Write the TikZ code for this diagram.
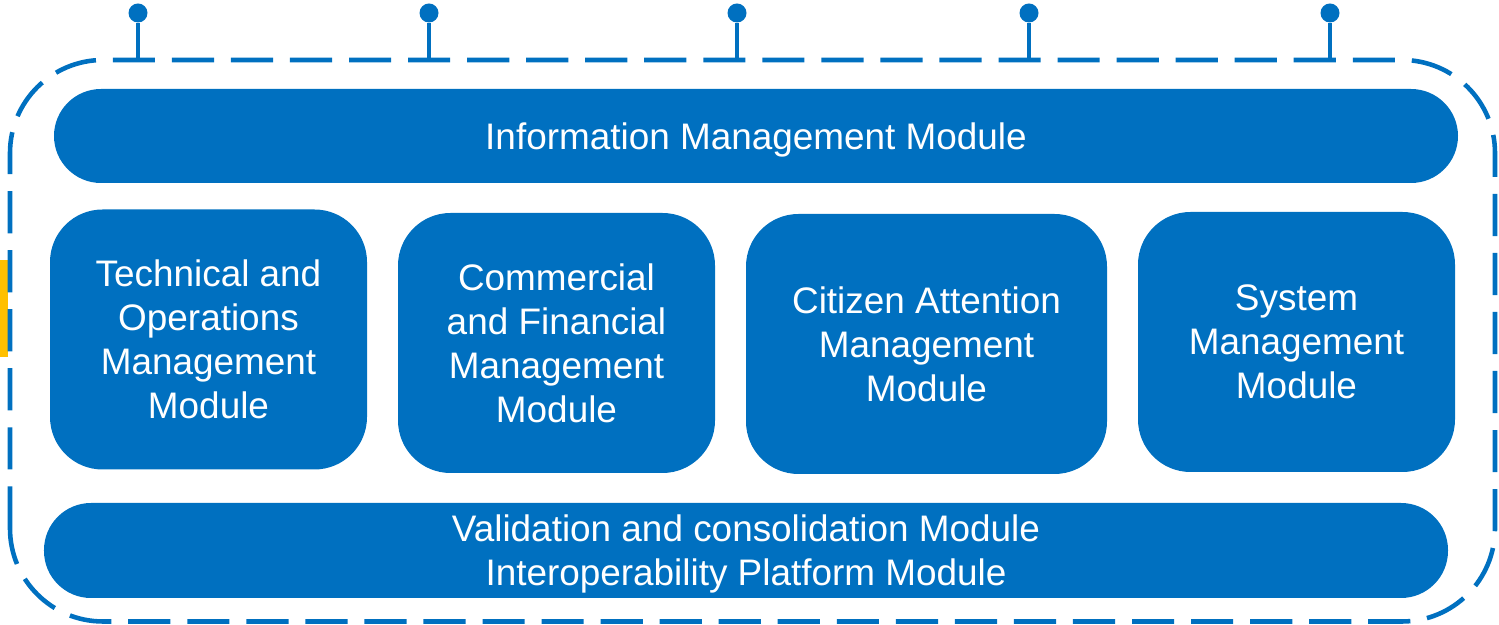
\documentclass[tikz,border=0pt]{standalone}
\usepackage{fontspec}
\setmainfont{Liberation Sans}
\usepackage{xcolor}
\definecolor{modblue}{HTML}{0070C0}
\definecolor{modyellow}{HTML}{FFC000}

\begin{document}
\begin{tikzpicture}[
    modtext/.style={text=white, align=center, font=\fontsize{21}{25}\selectfont, inner sep=0pt, text depth=0pt},
    pill/.style={modtext, fill=modblue, rounded corners=0.94cm, minimum width=28.08cm, minimum height=1.88cm},
    modbox/.style={modtext, fill=modblue, rounded corners=1.05cm, minimum height=5.2cm},
    pindot/.style={circle, fill=modblue, inner sep=0pt, minimum size=0.38cm}
]
            \useasboundingbox (0,0) rectangle (29.98,12.5);
            \fill[modyellow] (0,5.36) rectangle (0.16,7.3);
            \draw[modblue, line width=2.6pt, dash pattern=on 24pt off 9.6pt, rounded corners=1.86cm] (0.2,0.07) rectangle (29.9,11.3);
            \foreach \i/\x in {1/2.76, 2/8.58, 3/14.74, 4/20.58, 5/26.6} {
                \node[pindot] (pin\i) at (\x,12.24) {};
                \coordinate (top\i) at (\x,11.3);
                \draw[modblue, line width=2.4pt] (pin\i) -- (top\i);
            }
            \node[pill] (info) at (15.12,9.78) {Information Management Module};
            \node[modbox, minimum width=6.34cm] (tech) at (4.17,5.71) {Technical and\\Operations\\Management\\Module};
            \node[modbox, minimum width=6.34cm] (comm) at (11.13,5.64) {Commercial\\and Financial\\Management\\Module};
            \node[modbox, minimum width=7.22cm] (citi) at (18.53,5.62) {Citizen Attention\\Management\\Module};
            \node[modbox, minimum width=6.34cm] (sys) at (25.93,5.66) {System\\Management\\Module};
            \node[pill, minimum height=1.9cm] (valid) at (14.92,1.49) {Validation and consolidation Module\\Interoperability Platform Module};
        \end{tikzpicture}
\end{document}
